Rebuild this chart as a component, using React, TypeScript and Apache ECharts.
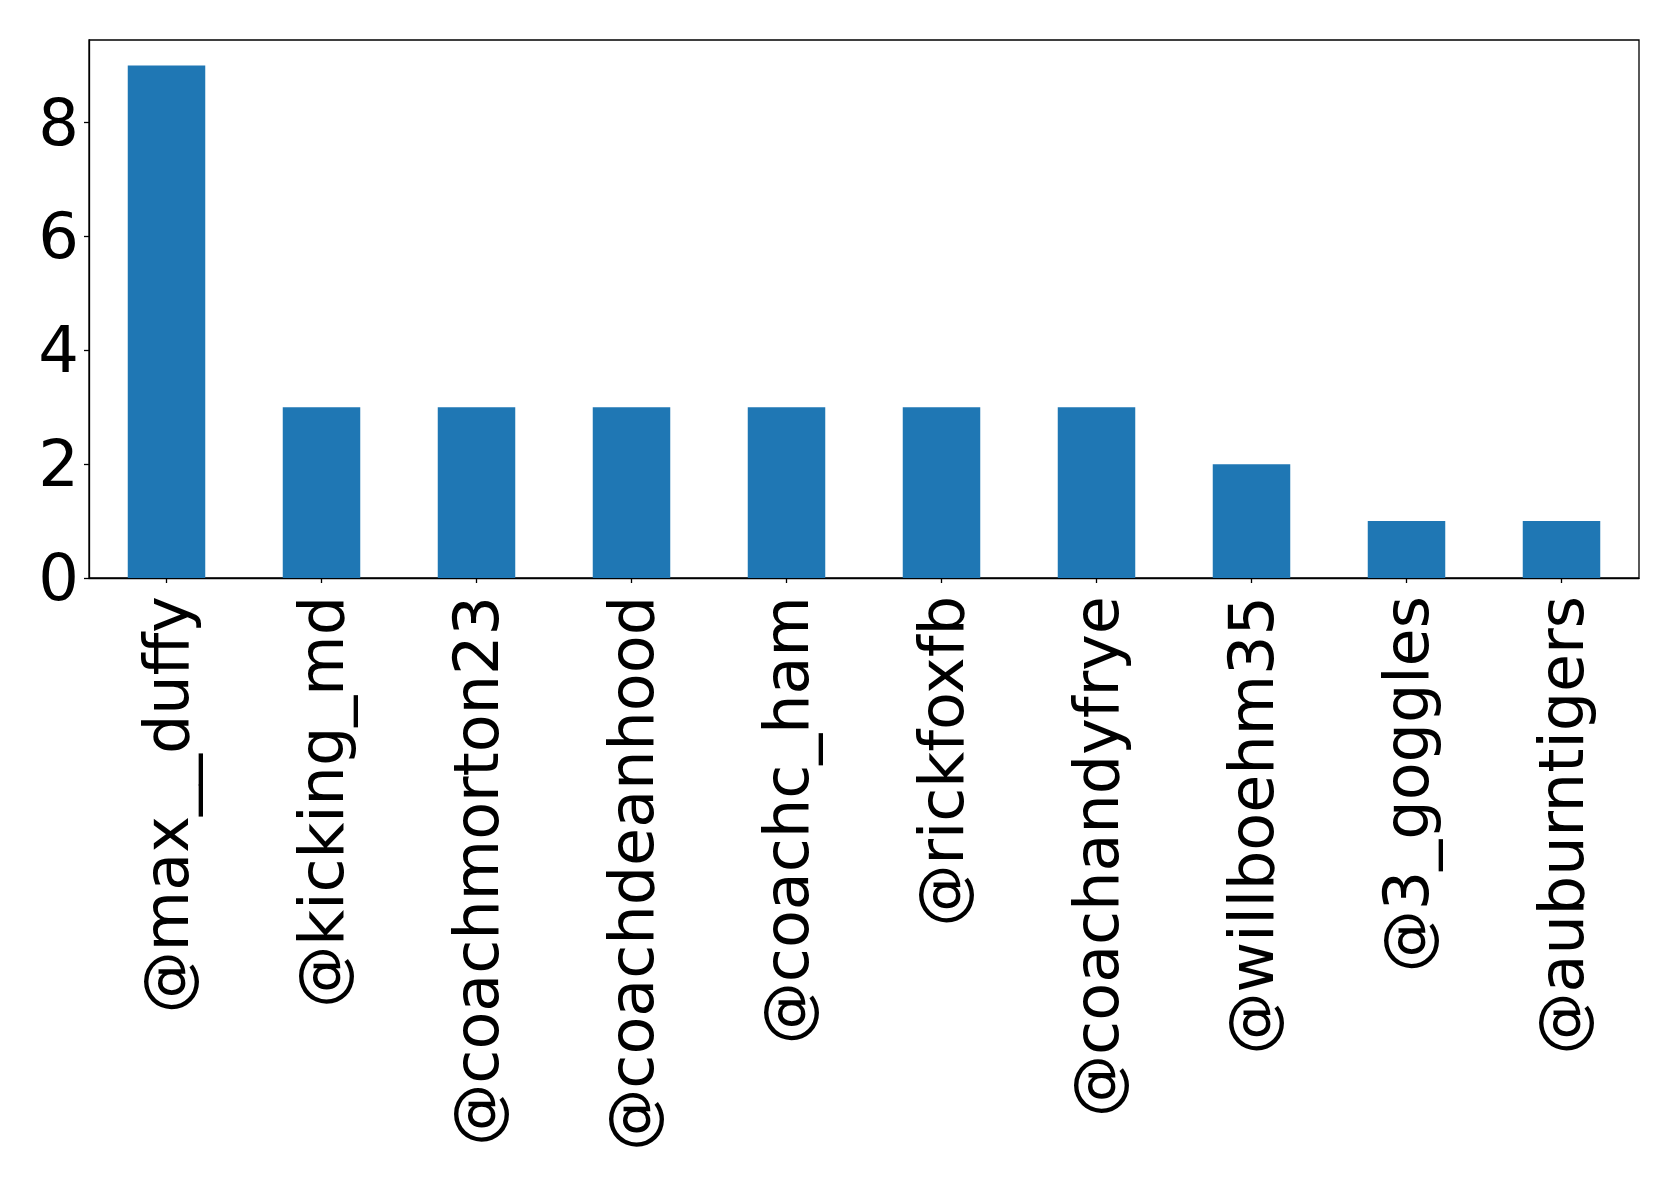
import React, { useEffect, useRef } from "react";
import * as echarts from "echarts";

const categories = [
  "@max__duffy",
  "@kicking_md",
  "@coachmorton23",
  "@coachdeanhood",
  "@coachc_ham",
  "@rickfoxfb",
  "@coachandyfrye",
  "@willboehm35",
  "@3_goggles",
  "@auburntigers",
];
const values = [9, 3, 3, 3, 3, 3, 3, 2, 1, 1];
const yTicks = [0, 2, 4, 6, 8];

export default function App() {
  const ref = useRef<HTMLDivElement>(null);
  useEffect(() => {
    if (!ref.current) return;
    const chart = echarts.init(ref.current, null, { renderer: "svg" });
    const font = "DejaVu Sans";
    chart.setOption({
      animation: false,
      backgroundColor: "#ffffff",
      grid: {
        left: 89,
        top: 40,
        width: 1550,
        height: 538,
        show: true,
        borderColor: "#000000",
        borderWidth: 1.3,
        backgroundColor: "transparent",
      },
      xAxis: {
        type: "category",
        data: categories,
        axisLine: { show: true, lineStyle: { color: "#000", width: 1.3 } },
        axisTick: { show: true, alignWithLabel: true, length: 5, lineStyle: { color: "#000", width: 1.3 } },
        axisLabel: {
          rotate: 90,
          interval: 0,
          margin: 18,
          fontSize: 62,
          fontFamily: font,
          color: "#000",
        },
        splitLine: { show: false },
      },
      yAxis: {
        type: "value",
        min: 0,
        max: 9.45,
        interval: 2,
        axisLine: { show: true, lineStyle: { color: "#000", width: 1.3 } },
        axisTick: { show: true, length: 5, lineStyle: { color: "#000", width: 1.3 }, customValues: yTicks },
        axisLabel: {
          margin: 10,
          fontSize: 64,
          fontFamily: font,
          color: "#000",
          customValues: yTicks,
        },
        splitLine: { show: false },
      },
      series: [
        {
          type: "bar",
          data: values,
          barWidth: "50%",
          itemStyle: { color: "#1f77b4" },
        },
      ],
    });
    return () => chart.dispose();
  }, []);
  return (
    <div
      ref={ref}
      style={{ position: "fixed", left: 0, top: 0, width: 1679, height: 1187 }}
    />
  );
}
